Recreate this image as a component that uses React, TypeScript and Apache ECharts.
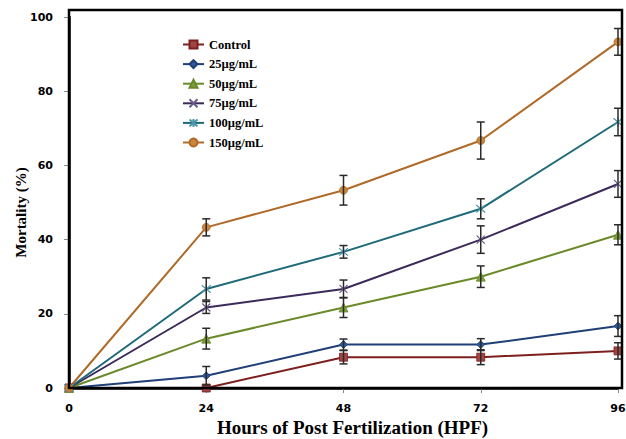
import React, { useEffect, useRef } from "react";
import * as echarts from "echarts";

const hours = [0, 24, 48, 72, 96];
const xTicks = [0, 24, 48, 72, 96];
const seriesNames = ["Control", "25µg/mL", "50µg/mL", "75µg/mL", "100µg/mL", "150µg/mL"];

const control = [0, 0, 8.3, 8.3, 10];
const ug25 = [0, 3.3, 11.7, 11.7, 16.7];
const ug50 = [0, 13.3, 21.7, 30, 41.3];
const ug75 = [0, 21.7, 26.7, 40, 55];
const ug100 = [0, 26.7, 36.7, 48.3, 71.7];
const ug150 = [0, 43.3, 53.3, 66.7, 93.3];

const errControl = [0, 0, 1.8, 2, 2.2];
const err25 = [0, 2.5, 1.5, 1.6, 2.8];
const err50 = [0, 2.8, 2.7, 2.9, 2.7];
const err75 = [0, 1.6, 2.4, 3.7, 3.6];
const err100 = [0, 3, 1.7, 2.7, 3.7];
const err150 = [0, 2.3, 4, 5, 3.6];

const values = [control, ug25, ug50, ug75, ug100, ug150];
const errors = [errControl, err25, err50, err75, err100, err150];
const lineColors = ["#7E1F1F", "#1F3F76", "#6A8A2A", "#3B2A5A", "#1F6A78", "#B06A28"];
const markerColors = ["#A04545", "#2E5A96", "#7E9E3E", "#6A5A8A", "#4A98AA", "#C8863E"];
const symbols = [
  "rect",
  "diamond",
  "triangle",
  "path://M0,0L10,10M10,0L0,10",
  "path://M0,0L10,10M10,0L0,10M5,-1L5,11",
  "circle",
];
const symbolSizes = [8, 8, 9, 8, 9, 8];

export default function App() {
  const ref = useRef<HTMLDivElement>(null);
  useEffect(() => {
    if (!ref.current) return;
    const chart = echarts.init(ref.current, undefined, { renderer: "svg" });
    const lineSeries: any[] = seriesNames.map((name, i) => {
      const isPath = symbols[i].startsWith("path://");
      return {
        name,
        type: "line",
        data: hours.map((h, j) => [h, values[i][j]]),
        symbol: symbols[i],
        symbolSize: symbolSizes[i],
        showAllSymbol: true,
        lineStyle: { color: lineColors[i], width: 2 },
        itemStyle: isPath
          ? { color: "none", borderColor: markerColors[i], borderWidth: 1.2 }
          : { color: markerColors[i], borderColor: lineColors[i], borderWidth: 0.8 },
        z: 2,
      };
    });
    const errSeries: any[] = seriesNames.map((name, i) => ({
      name: name + " err",
      type: "custom",
      data: hours.map((h, j) => [h, values[i][j], errors[i][j]]),
      z: 3,
      silent: true,
      renderItem: (params: any, api: any) => {
        const x = api.value(0);
        const y = api.value(1);
        const e = api.value(2);
        if (!e) return { type: "group", children: [] };
        const top = api.coord([x, y + e]);
        const bot = api.coord([x, y - e]);
        const hw = 4;
        const style = { stroke: "#2a2a2a", lineWidth: 1.5 };
        return {
          type: "group",
          children: [
            { type: "line", shape: { x1: top[0], y1: top[1], x2: bot[0], y2: bot[1] }, style },
            { type: "line", shape: { x1: top[0] - hw, y1: top[1], x2: top[0] + hw, y2: top[1] }, style },
            { type: "line", shape: { x1: bot[0] - hw, y1: bot[1], x2: bot[0] + hw, y2: bot[1] }, style },
          ],
        };
      },
    }));
    chart.setOption({
      animation: false,
      backgroundColor: "#ffffff",
      grid: { left: 69, right: 8, top: 17, bottom: 51, outerBoundsMode: "none", containLabel: false },
      legend: {
        data: seriesNames,
        orient: "vertical",
        left: 177,
        top: 33,
        itemWidth: 21,
        itemHeight: 10,
        itemGap: 6.6,
        textStyle: { fontFamily: "Liberation Serif", fontWeight: "bold", fontSize: 12.5, color: "#000" },
      },
      graphic: [
        {
          type: "rect",
          shape: { x: 69, y: 10, width: 553, height: 378 },
          style: { fill: "none", stroke: "#000", lineWidth: 2.5 },
          z: 10,
          silent: true,
        },
      ],
      xAxis: {
        type: "value",
        min: 0,
        max: 96,
        interval: 24,
        name: "Hours of Post Fertilization (HPF)",
        nameLocation: "middle",
        nameGap: 30,
        nameMoveOverlap: false,
        nameTextStyle: {
          fontFamily: "Liberation Serif",
          fontWeight: "bold",
          fontSize: 19,
          color: "#000",
          padding: [0, 0, 0, 18],
        },
        axisLine: { show: true, lineStyle: { color: "#000", width: 2.5 } },
        axisTick: { show: true, length: 5, lineStyle: { color: "#888", width: 1 } },
        axisLabel: {
          margin: 15,
          fontFamily: "DejaVu Sans",
          fontWeight: "bold",
          fontSize: 11,
          color: "#000",
          formatter: (v: number) => (xTicks.includes(v) ? String(v) : ""),
        },
        splitLine: { show: false },
      },
      yAxis: {
        type: "value",
        min: 0,
        max: 100,
        interval: 20,
        name: "Mortality (%)",
        nameLocation: "middle",
        nameGap: 41,
        nameMoveOverlap: false,
        nameTextStyle: {
          fontFamily: "Liberation Serif",
          fontWeight: "bold",
          fontSize: 15,
          color: "#000",
          padding: [0, 20, 0, 0],
        },
        axisLine: { show: true, lineStyle: { color: "#000", width: 2.5 } },
        axisTick: { show: true, length: 5, lineStyle: { color: "#888", width: 1 } },
        axisLabel: { margin: 16, fontFamily: "DejaVu Sans", fontWeight: "bold", fontSize: 11, color: "#000" },
        splitLine: { show: false },
      },
      series: [...lineSeries, ...errSeries],
    });
    return () => chart.dispose();
  }, []);
  return <div ref={ref} style={{ position: "fixed", left: 0, top: 0, width: 626, height: 439 }} />;
}
